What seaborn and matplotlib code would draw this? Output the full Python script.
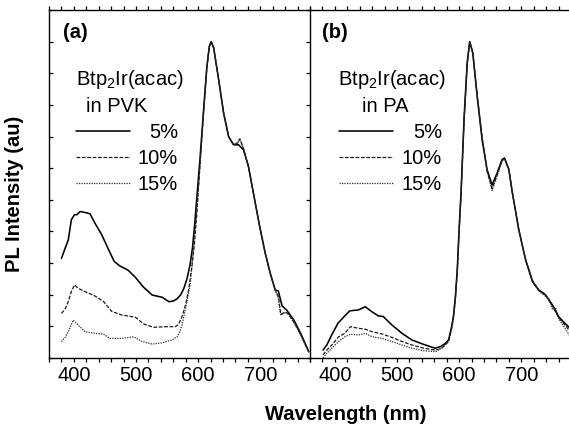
import numpy as np
import pandas as pd
import matplotlib
matplotlib.use("Agg")
import matplotlib.pyplot as plt
import seaborn as sns
from matplotlib.ticker import MultipleLocator

# ---------------- data ----------------
conc_labels = ["5%", "10%", "15%"]
xticks_major = [400, 500, 600, 700]

# Panel (a): Btp2Ir(acac) in PVK
wl_a5 = [380, 386, 391, 396, 401, 405, 410, 418, 426, 434, 445, 456, 465, 474, 487, 499,
         512, 526, 542, 553, 560, 566, 572, 577, 582, 587, 591, 595, 598, 603, 609, 614,
         618, 621, 625, 633, 641, 649, 657, 665, 673, 681, 690, 698, 708, 716, 724, 729,
         735, 743, 754, 765, 778]
pl_a5 = [3.15, 3.47, 3.73, 4.37, 4.53, 4.53, 4.63, 4.60, 4.56, 4.26, 3.89, 3.42, 3.05, 2.91,
         2.78, 2.55, 2.24, 1.99, 1.92, 1.78, 1.80, 1.87, 2.00, 2.20, 2.50, 2.95, 3.50, 4.35,
         5.10, 6.30, 7.90, 9.20, 9.85, 10.0, 9.80, 8.80, 7.74, 7.00, 6.74, 6.74, 6.58, 6.05,
         5.10, 4.26, 3.31, 2.68, 2.15, 2.12, 1.65, 1.50, 1.20, 0.78, 0.20]

wl_a10 = [380, 386, 391, 396, 401, 407, 418, 434, 448, 461, 477, 499, 512, 528, 547, 563,
          568, 574, 580, 585, 590, 594, 598, 602, 608, 614, 618, 621, 625, 633, 641, 649,
          657, 664, 667, 673, 681, 690, 698, 708, 716, 724, 729, 733, 740, 745, 754, 765, 778]
pl_a10 = [1.41, 1.55, 1.78, 2.10, 2.31, 2.20, 2.10, 1.96, 1.78, 1.47, 1.36, 1.29, 1.08, 0.97,
          0.99, 0.99, 1.05, 1.30, 1.70, 2.20, 2.90, 3.60, 4.60, 5.80, 7.60, 9.20, 9.85, 10.0,
          9.80, 8.80, 7.74, 7.00, 6.74, 6.80, 6.92, 6.62, 6.05, 5.10, 4.26, 3.31, 2.68, 2.15,
          1.95, 1.38, 1.45, 1.40, 1.15, 0.75, 0.20]

wl_a15 = [380, 386, 391, 399, 407, 418, 434, 448, 458, 477, 496, 510, 526, 542, 558, 566,
          570, 574, 578, 582, 587, 591, 595, 599, 603, 609, 614, 618, 621, 625, 633, 641,
          649, 657, 664, 667, 673, 681, 690, 698, 708, 716, 724, 729, 733, 740, 745, 754,
          765, 778]
pl_a15 = [0.52, 0.65, 0.83, 1.20, 1.04, 0.83, 0.78, 0.75, 0.62, 0.62, 0.67, 0.52, 0.44, 0.48,
          0.57, 0.67, 0.80, 1.05, 1.40, 1.80, 2.30, 3.10, 4.00, 5.00, 6.10, 7.80, 9.15, 9.85,
          10.0, 9.80, 8.80, 7.74, 7.00, 6.74, 6.82, 6.95, 6.62, 6.05, 5.10, 4.26, 3.31, 2.68,
          2.15, 1.90, 1.35, 1.45, 1.38, 1.12, 0.72, 0.18]

# Panel (b): Btp2Ir(acac) in PA
wl_b5 = [381, 387, 395, 405, 416, 424, 438, 449, 459, 470, 478, 492, 508, 524, 543, 561,
         570, 577, 583, 588, 591, 594, 597, 600, 603, 608, 613, 617, 622, 629, 637, 645,
         653, 661, 669, 673, 680, 685, 696, 707, 718, 728, 739, 750, 760, 770, 778]
pl_b5 = [0.25, 0.41, 0.73, 1.10, 1.33, 1.49, 1.52, 1.62, 1.47, 1.33, 1.31, 1.04, 0.78, 0.57,
         0.43, 0.31, 0.36, 0.45, 0.57, 1.00, 1.35, 1.95, 2.80, 4.10, 5.20, 7.60, 9.35, 10.0,
         9.64, 8.27, 6.90, 5.95, 5.47, 5.84, 6.27, 6.32, 5.95, 5.30, 4.05, 3.10, 2.41, 2.15,
         1.99, 1.68, 1.31, 1.10, 0.95]

wl_b10 = [381, 387, 395, 406, 416, 425, 438, 449, 460, 476, 492, 508, 524, 543, 562, 572,
          583, 588, 591, 594, 597, 600, 603, 608, 613, 617, 622, 629, 637, 645, 653, 661,
          669, 673, 680, 685, 696, 707, 718, 728, 739, 745, 750, 760, 770, 778]
pl_b10 = [0.10, 0.25, 0.41, 0.67, 0.78, 0.99, 0.94, 0.91, 0.83, 0.76, 0.65, 0.52, 0.41, 0.31,
          0.25, 0.31, 0.52, 0.95, 1.30, 1.90, 2.75, 4.05, 5.15, 7.55, 9.30, 10.0, 9.64, 8.30,
          6.95, 5.90, 5.35, 5.78, 6.25, 6.32, 5.97, 5.30, 4.05, 3.10, 2.45, 2.15, 2.02, 1.80,
          1.65, 1.28, 1.05, 0.85]

wl_b15 = [381, 387, 395, 406, 416, 425, 438, 449, 460, 476, 492, 508, 524, 543, 562, 572,
          583, 588, 591, 594, 597, 600, 603, 608, 613, 617, 622, 629, 637, 645, 653, 661,
          669, 673, 680, 685, 696, 707, 718, 728, 739, 745, 750, 755, 760, 770, 778]
pl_b15 = [0.00, 0.15, 0.31, 0.52, 0.67, 0.75, 0.73, 0.78, 0.67, 0.62, 0.52, 0.41, 0.31, 0.23,
          0.20, 0.31, 0.52, 0.92, 1.28, 1.88, 2.72, 4.00, 5.10, 7.50, 9.28, 10.0, 9.64, 8.32,
          7.00, 5.92, 5.30, 5.75, 6.22, 6.30, 5.98, 5.30, 4.05, 3.12, 2.45, 2.12, 1.95, 1.85,
          1.55, 1.60, 1.25, 0.95, 0.70]

panel_a_title = "(a)"
panel_b_title = "(b)"
legend_a = ["Btp$_2$Ir(acac)", "in PVK"]
legend_b = ["Btp$_2$Ir(acac)", "in PA"]


def long_df(series):
    frames = []
    for lab, wl, pl in series:
        frames.append(pd.DataFrame({"wl": wl, "pl": pl, "conc": lab}))
    return pd.concat(frames, ignore_index=True)


df_a = long_df([("5%", wl_a5, pl_a5), ("10%", wl_a10, pl_a10), ("15%", wl_a15, pl_a15)])
df_b = long_df([("5%", wl_b5, pl_b5), ("10%", wl_b10, pl_b10), ("15%", wl_b15, pl_b15)])

# ---------------- style ----------------
sns.set_theme(style="white")
plt.rcParams["font.family"] = ["Liberation Sans", "DejaVu Sans"]
plt.rcParams["mathtext.fontset"] = "custom"
plt.rcParams["mathtext.rm"] = "Liberation Sans"
plt.rcParams["mathtext.it"] = "Liberation Sans:italic"
plt.rcParams["mathtext.bf"] = "Liberation Sans:bold"
plt.rcParams["text.color"] = "black"
plt.rcParams["axes.labelcolor"] = "black"
plt.rcParams["xtick.color"] = "black"
plt.rcParams["ytick.color"] = "black"
plt.rcParams["xtick.labelcolor"] = "black"

FS = 14.5
dash_map = {"5%": "", "10%": (3, 1.3), "15%": (1, 1)}
lw_map = {"5%": 1.15, "10%": 0.9, "15%": 0.9}
col_map = {"5%": "#000000", "10%": "#1a1a1a", "15%": "#2a2a2a"}

W, H = 569, 425
fig = plt.figure(figsize=(W / 100, H / 100), dpi=100)
ax_a = fig.add_axes([49 / W, 67 / H, 261 / W, 348 / H])
ax_b = fig.add_axes([310 / W, 67 / H, 261 / W, 348 / H])

for ax, df, title, leg in [(ax_a, df_a, panel_a_title, legend_a),
                           (ax_b, df_b, panel_b_title, legend_b)]:
    for lab in conc_labels:
        sub = df[df["conc"] == lab]
        sns.lineplot(data=sub, x="wl", y="pl", ax=ax, color=col_map[lab],
                     linewidth=lw_map[lab], legend=False, estimator=None, sort=True)
        line = ax.get_lines()[-1]
        if dash_map[lab]:
            line.set_dashes(dash_map[lab])
    ax.set_xlim(360, 780)
    ax.set_ylim(0, 11)
    ax.set_xlabel("")
    ax.set_ylabel("")
    ax.set_xticks(xticks_major)
    ax.xaxis.set_minor_locator(MultipleLocator(20))
    ax.yaxis.set_major_locator(MultipleLocator(1))
    ax.set_yticklabels([])
    ax.tick_params(axis="x", which="both", direction="out", bottom=True, top=True,
                   labelbottom=True, labeltop=False, length=3, width=0.9,
                   labelsize=FS, pad=3, color="black", labelcolor="black")
    for s in ax.spines.values():
        s.set_color("black")
        s.set_linewidth(1.0)
    ax.set_facecolor("none")

    # panel label
    ax.text(0.052 if ax is ax_a else 0.046, (358 - 38.5) / 348, title,
            transform=ax.transAxes, fontsize=FS, fontweight="bold",
            ha="left", va="baseline", color="black")

    # legend-style annotation
    if ax is ax_a:
        x_title, x_sub, x0, x1, x_txt = 0.103, 0.142, 0.103, 0.310, 0.494
    else:
        x_title, x_sub, x0, x1, x_txt = 0.107, 0.198, 0.111, 0.318, 0.506
    ax.text(x_title, (358 - 85) / 348, leg[0], transform=ax.transAxes,
            fontsize=FS, ha="left", va="baseline", color="black")
    ax.text(x_sub, (358 - 112.5) / 348, leg[1], transform=ax.transAxes,
            fontsize=FS, ha="left", va="baseline", color="black")
    for i, lab in enumerate(conc_labels):
        yl = (358 - (131 + 26 * i)) / 348
        yt = (358 - (138 + 26 * i)) / 348
        ln, = ax.plot([x0, x1], [yl, yl], transform=ax.transAxes,
                      color=col_map[lab], linewidth=lw_map[lab])
        if dash_map[lab]:
            ln.set_dashes(dash_map[lab])
        ax.text(x_txt, yt, lab, transform=ax.transAxes, fontsize=FS,
                ha="right", va="baseline", color="black")

ax_a.tick_params(axis="y", which="major", direction="in", left=True, right=True,
                 length=3, width=0.9, color="black")
ax_b.tick_params(axis="y", which="both", left=False, right=False)
ax_b.spines["left"].set_visible(False)

fig.text(346 / W, 1 - 415 / H, "Wavelength (nm)", fontsize=FS, fontweight="bold",
         ha="center", va="center", color="black")
fig.text(15 / W, 1 - 194 / H, "PL Intensity (au)", fontsize=FS, fontweight="bold",
         ha="center", va="center", rotation=90, color="black")

fig.savefig("out.png", dpi=100, facecolor="white")
